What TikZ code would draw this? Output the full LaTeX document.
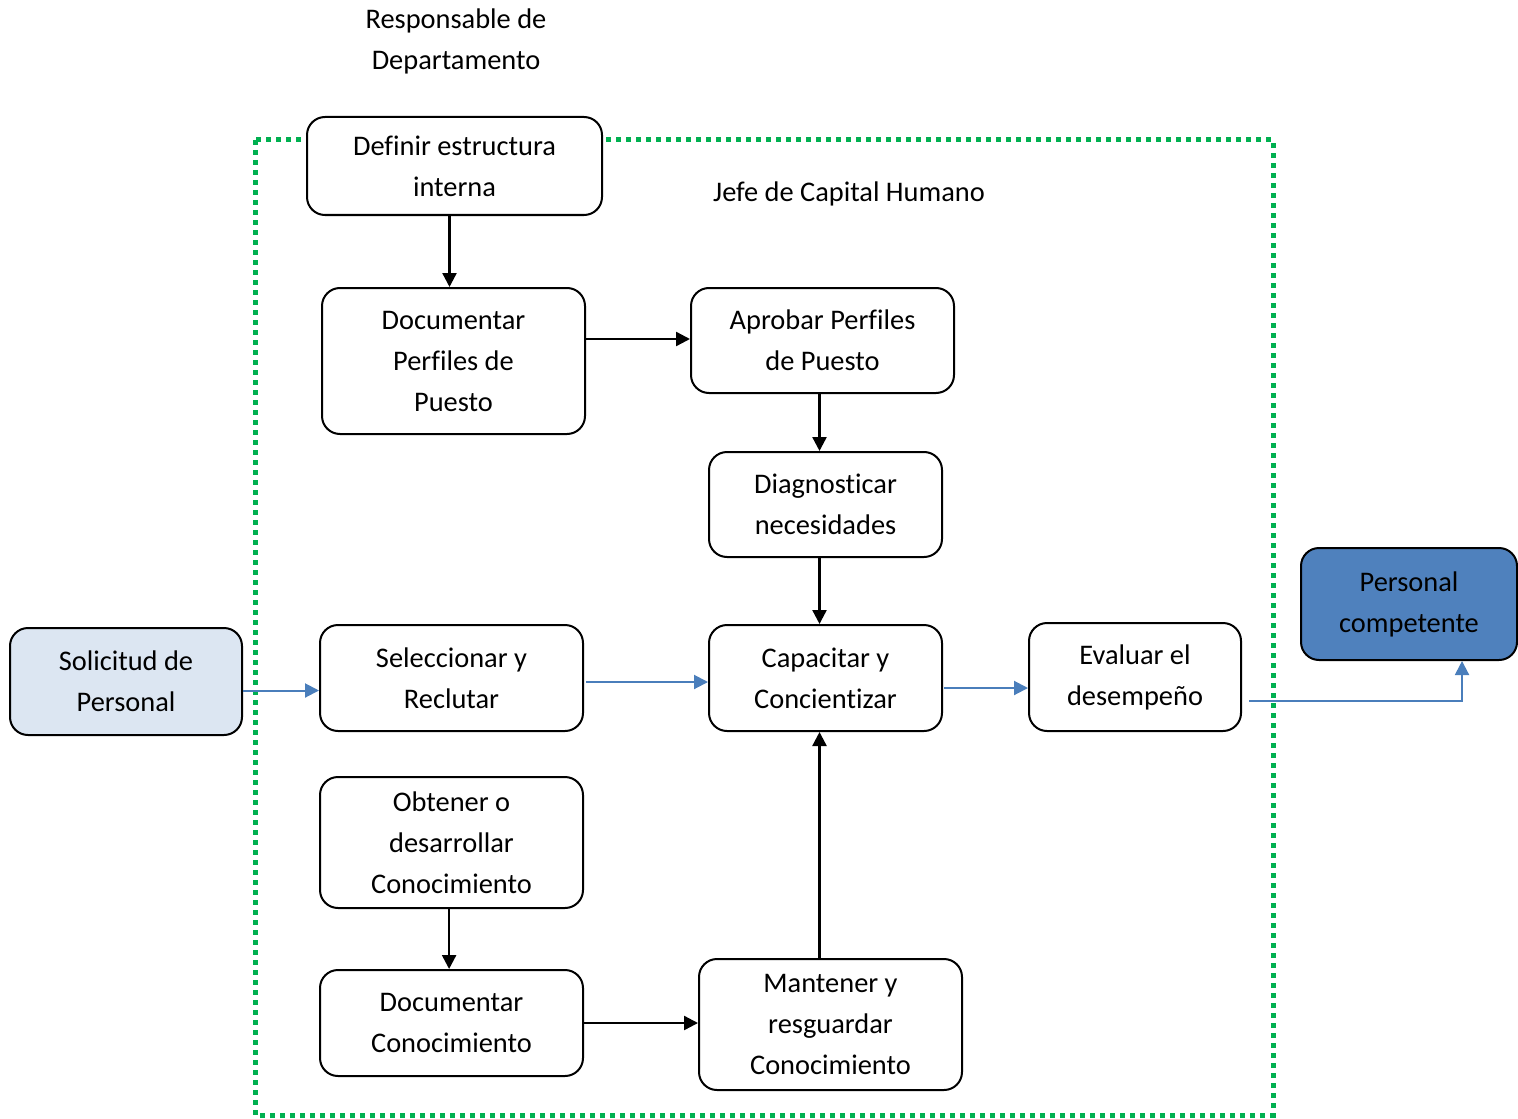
\documentclass[tikz,border=0pt]{standalone}
\usepackage{fontspec}
\setmainfont[Ligatures=CommonOff]{Carlito}
\usetikzlibrary{arrows.meta,calc}
\definecolor{lightfill}{HTML}{DCE6F2}
\definecolor{darkfill}{HTML}{4F81BD}
\definecolor{flowblue}{HTML}{4A7EBB}
\definecolor{zonegreen}{HTML}{00B050}
\begin{document}
\begin{tikzpicture}[x=0.5pt,y=-0.5pt,
  every node/.style={font=\fontsize{14.2pt}{20.5pt}\selectfont, align=center, inner sep=0pt},
  box/.style={draw=black, line width=1pt, rounded corners=9pt, fill=white},
  blk/.style={draw=black, line width=1.2pt, -{Triangle[length=7pt,width=7pt]}},
  blu/.style={draw=flowblue, line width=1pt, -{Triangle[length=7pt,width=7pt]}},
  zone/.style={draw=zonegreen, line width=2.5pt, dash pattern=on 2.5pt off 2.5pt}]
\useasboundingbox (0,0) rectangle (1518,1118);

% area of responsibility
\draw[zone] (255,140) rectangle (1273,1115);

% labels
\node (resp) at (456,41) {Responsable de\\Departamento};
\node (jefe) at (849,194) {Jefe de Capital Humano};

% process steps
\node[box, minimum width=147.5pt, minimum height=49pt] (defin) at (454.5,166) {Definir estructura\\interna};
\node[box, minimum width=131.5pt, minimum height=73pt] (docperf) at (453.5,361) {Documentar\\Perfiles de\\Puesto};
\node[box, minimum width=131.5pt, minimum height=52.5pt] (aprob) at (822.5,340.5) {Aprobar Perfiles\\de Puesto};
\node[box, minimum width=116.5pt, minimum height=52.5pt] (diag) at (825.5,504.5) {Diagnosticar\\necesidades};
\node[box, minimum width=116.5pt, minimum height=53pt] (capac) at (825.5,678) {Capacitar y\\Concientizar};
\node[box, minimum width=106pt, minimum height=54pt] (evalu) at (1135,677) {Evaluar el\\desempeño};
\node[box, minimum width=131.5pt, minimum height=53pt] (selec) at (451.5,678) {Seleccionar y\\Reclutar};
\node[box, minimum width=131.5pt, minimum height=65.5pt] (obten) at (451.5,842.5) {Obtener o\\desarrollar\\Conocimiento};
\node[box, minimum width=131.5pt, minimum height=53pt] (doccon) at (451.5,1023) {Documentar\\Conocimiento};
\node[box, minimum width=131.5pt, minimum height=65.5pt] (mante) at (830.5,1024.5) {Mantener y\\resguardar\\Conocimiento};

% input and output
\node[box, fill=lightfill, minimum width=116pt, minimum height=53.5pt] (solic) at (126,681.5) {Solicitud de\\Personal};
\node[box, fill=darkfill, minimum width=108pt, minimum height=56pt] (perso) at (1409,604) {Personal\\competente};

% connectors
\draw[blk] ([xshift=-2.5pt]defin.south) -- ([xshift=-2.5pt]defin.south |- docperf.north);
\draw[blk] ([yshift=11pt]docperf.east) -- ([yshift=11pt]docperf.east -| aprob.west);
\draw[blk] ([xshift=-1.5pt]aprob.south) -- ([xshift=-1.5pt]aprob.south |- diag.north);
\draw[blk] ([xshift=-3pt]diag.south) -- ([xshift=-3pt]capac.north);
\draw[blk] ([xshift=-1.2pt]obten.south) -- ([xshift=-1.2pt]obten.south |- doccon.north);
\draw[blk] (doccon.east) -- (doccon.east -| mante.west);
\draw[blk] ([xshift=-5.5pt]mante.north) -- ([xshift=-5.5pt]mante.north |- capac.south);
\draw[blu] ([yshift=-4.5pt]solic.east) -- ([yshift=-4.5pt]solic.east -| selec.west);
\draw[blu] ([xshift=1pt,yshift=-2pt]selec.east) -- ([yshift=-2pt]selec.east -| capac.west);
\draw[blu] ([xshift=0.5pt,yshift=-5pt]capac.east) -- ([yshift=-5pt]capac.east -| evalu.west);
\draw[blu] ([shift={(3.5pt,-12pt)}]evalu.east) -| ([xshift=26.5pt]perso.south);
\end{tikzpicture}
\end{document}
